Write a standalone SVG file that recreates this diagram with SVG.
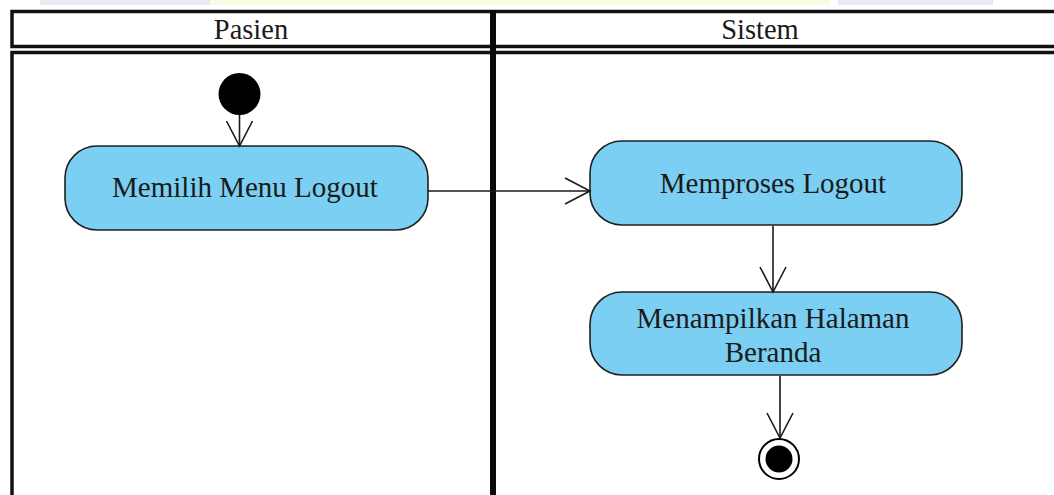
<svg xmlns="http://www.w3.org/2000/svg" width="1054" height="495" viewBox="0 0 1054 495">
<style>
.lane{fill:none;stroke:#111;stroke-width:3.5}
.div{stroke:#0a0a0a;stroke-width:6}
.hdr{font-family:"Liberation Serif","Times New Roman",serif;font-size:28.5px;fill:#1a1a1a;text-anchor:middle}
.act{fill:#7bcff2;stroke:#1f1f1f;stroke-width:1.6}
.lbl{font-family:"Liberation Serif","Times New Roman",serif;font-size:29px;fill:#1a1a1a;text-anchor:middle}
.edge{fill:none;stroke:#1a1a1a;stroke-width:1.6}
</style>
<defs>
<marker id="open" markerWidth="30" markerHeight="30" refX="26" refY="14" orient="auto" markerUnits="userSpaceOnUse">
<path d="M1,1 L26,14 L1,27" fill="none" stroke="#1a1a1a" stroke-width="1.6"/>
</marker>
</defs>
<rect x="0" y="0" width="1054" height="495" fill="#ffffff"/>
<g id="watermark">
<rect x="40" y="0" width="170" height="5" fill="#ebe8f6"/>
<rect x="210" y="0" width="620" height="5" fill="#fdfbe6"/>
<rect x="838" y="0" width="155" height="5" fill="#ebe8f6"/>
</g>
<g id="lanes">
<rect class="lane" x="12" y="11.5" width="1060" height="35"/>
<rect class="lane" x="12" y="52.5" width="1060" height="460"/>
<line class="div" x1="493" y1="10" x2="493" y2="495"/>
<text class="hdr" x="251" y="39">Pasien</text>
<text class="hdr" x="760" y="39">Sistem</text>
</g>
<g id="start">
<circle cx="239.5" cy="94" r="21" fill="#000"/>
</g>
<g id="n1">
<rect class="act" x="65" y="146" width="363" height="84" rx="32" ry="32"/>
<text class="lbl" x="245" y="197">Memilih Menu Logout</text>
</g>
<g id="n2">
<rect class="act" x="590" y="141" width="372" height="84" rx="32" ry="32"/>
<text class="lbl" x="773" y="193">Memproses Logout</text>
</g>
<g id="n3">
<rect class="act" x="590" y="292" width="372" height="83" rx="32" ry="32"/>
<text class="lbl" x="773" y="328">Menampilkan Halaman</text>
<text class="lbl" x="773" y="362">Beranda</text>
</g>
<g id="end">
<circle cx="779" cy="459" r="20" fill="#fff" stroke="#000" stroke-width="2"/>
<circle cx="779" cy="459" r="13.5" fill="#000"/>
</g>
<g id="connectors">
<line class="edge" x1="239.5" y1="115" x2="239.5" y2="146" marker-end="url(#open)"/>
<line class="edge" x1="428" y1="191" x2="590" y2="191" marker-end="url(#open)"/>
<line class="edge" x1="773" y1="226" x2="773" y2="292" marker-end="url(#open)"/>
<line class="edge" x1="780" y1="376" x2="780" y2="438" marker-end="url(#open)"/>
</g>
</svg>
